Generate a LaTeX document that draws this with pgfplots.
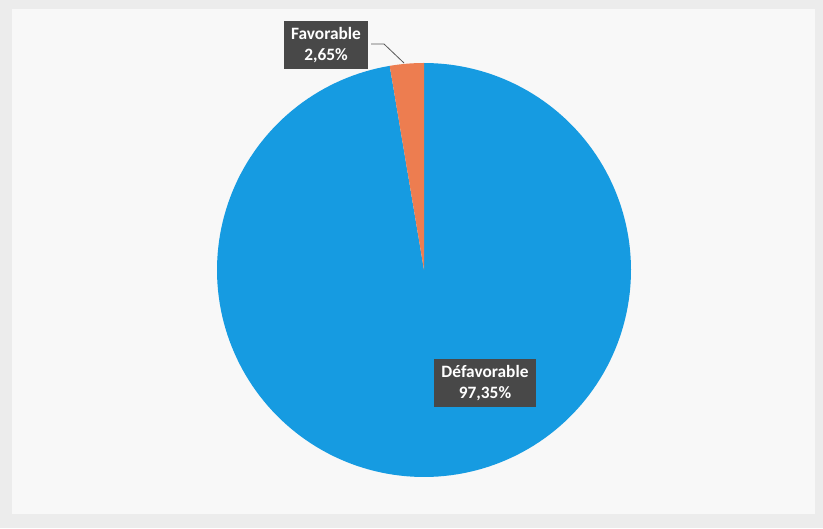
\documentclass[border=0pt]{standalone}
\usepackage{pgfplots}
\pgfplotsset{compat=1.18}
\usepackage{fontspec}
\setmainfont{Carlito}
\definecolor{pieblue}{RGB}{22,155,225}
\definecolor{pieorange}{RGB}{237,125,80}
\definecolor{lblgray}{RGB}{72,72,72}
\definecolor{bgout}{RGB}{236,236,236}
\definecolor{bgin}{RGB}{248,248,248}
% data (percent)
\def\valFav{2.65}
\def\valDef{97.35}
\begin{document}
\begin{tikzpicture}
\pgfmathsetmacro{\angFav}{90+3.6*\valFav}
\pgfmathsetmacro{\angDefEnd}{\angFav+3.6*\valDef}
\begin{axis}[
  width=617.25pt, height=396pt, scale only axis,
  xmin=0, xmax=823, ymin=0, ymax=528,
  hide axis, clip=false,
]
\fill[bgout] (axis cs:0,0) rectangle (axis cs:823,528);
\fill[bgin] (axis cs:12,14) rectangle (axis cs:815,519);
% Défavorable slice
\addplot[fill=pieblue, draw=none, domain=\angFav:\angDefEnd, samples=200]
  ({424+207*cos(x)},{258+207*sin(x)}) -- (axis cs:424,258) -- cycle;
% Favorable slice
\addplot[fill=pieorange, draw=none, domain=90:\angFav, samples=20]
  ({424+207*cos(x)},{258+207*sin(x)}) -- (axis cs:424,258) -- cycle;
% leader line
\draw[gray!70!black, line width=0.6pt] (axis cs:371,484) -- (axis cs:384,484) -- (axis cs:404,465);
% labels
\node[fill=lblgray, text=white, font=\fontsize{13}{15.5}\selectfont\bfseries, align=center,
  inner xsep=5.5pt, inner ysep=5pt] at (axis cs:326,483) {Favorable\\2,65\%};
\node[fill=lblgray, text=white, font=\fontsize{13}{15.5}\selectfont\bfseries, align=center,
  inner xsep=5.5pt, inner ysep=5pt] at (axis cs:485,145) {Défavorable\\97,35\%};
\end{axis}
\end{tikzpicture}
\end{document}
